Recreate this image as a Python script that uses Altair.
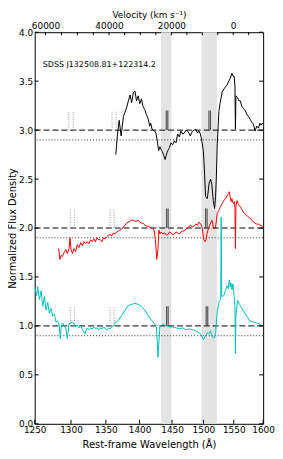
import math
import altair as alt
import pandas as pd

W, H = 231, 396

# ---------------- data (rest-frame wavelength in Angstrom, plotted flux incl. offsets) -------------
black_wl = [1364.5, 1367.0, 1369.5, 1372.4, 1375.8, 1380.6, 1383.2, 1385.7, 1388.0, 1390.5,
            1393.0, 1395.4, 1397.8, 1400.3, 1402.8, 1405.3, 1407.9, 1410.3, 1412.9, 1415.5,
            1417.0, 1419.0, 1423.1, 1425.0, 1427.0, 1429.2, 1431.1, 1433.1, 1434.9, 1436.7,
            1439.2, 1440.8, 1442.3, 1444.1, 1445.9, 1448.4, 1451.0, 1453.7, 1456.2, 1458.8,
            1461.5, 1464.0, 1466.7, 1469.4, 1471.9, 1474.5, 1476.6, 1478.8, 1480.8, 1482.5,
            1485.2, 1487.7, 1490.4, 1493.0, 1495.1, 1496.6, 1498.2, 1499.8, 1500.9, 1501.9,
            1503.5, 1506.3, 1507.9, 1509.1, 1511.7, 1513.6, 1516.1, 1518.2, 1519.8, 1521.3,
            1522.6, 1524.2, 1525.3, 1527.4, 1530.7, 1534.7, 1538.8, 1541.6, 1544.2, 1546.9,
            1548.9, 1550.7, 1552.0, 1552.8, 1553.6, 1556.5, 1558.6, 1560.8, 1563.7, 1566.5,
            1569.2, 1572.1, 1574.9, 1577.7, 1580.5, 1583.4, 1586.1, 1588.9, 1591.8, 1594.5,
            1596.5, 1598.5, 1600.0]
black_flux = [2.75, 2.96, 3.10, 2.94, 3.14, 3.23, 3.30, 3.36, 3.28, 3.38,
              3.40, 3.30, 3.35, 3.27, 3.32, 3.24, 3.21, 3.16, 3.12, 3.04,
              3.07, 3.01, 2.99, 2.97, 2.89, 2.79, 2.83, 2.80, 2.78, 2.75,
              2.70, 2.74, 2.77, 2.80, 2.82, 2.87, 2.85, 2.89, 2.87, 2.96,
              2.93, 2.99, 2.96, 2.97, 3.00, 2.99, 2.97, 2.94, 2.97, 2.99,
              3.00, 3.01, 2.97, 2.99, 2.96, 2.92, 2.86, 2.79, 2.68, 2.55,
              2.32, 2.30, 2.38, 2.45, 2.50, 2.45, 2.28, 2.20, 2.32, 2.55,
              2.86, 3.05, 3.19, 3.28, 3.39, 3.43, 3.46, 3.50, 3.53, 3.58,
              3.55, 3.55, 3.45, 3.01, 3.35, 3.33, 3.30, 3.30, 3.24, 3.22,
              3.20, 3.16, 3.14, 3.11, 3.08, 3.06, 2.99, 3.04, 3.02, 3.07,
              3.05, 3.07, 3.06]

red_wl = [1282.7, 1284.6, 1286.3, 1288.1, 1290.4, 1292.7, 1294.9, 1297.2, 1298.6, 1300.0,
          1302.1, 1304.2, 1306.6, 1308.8, 1311.2, 1313.6, 1315.9, 1318.3, 1320.7, 1323.0,
          1325.4, 1327.8, 1330.0, 1332.5, 1334.8, 1337.1, 1339.5, 1341.9, 1344.2, 1346.6,
          1349.0, 1351.3, 1353.8, 1356.3, 1358.6, 1361.1, 1363.6, 1365.9, 1368.5, 1371.0,
          1373.3, 1375.8, 1378.3, 1380.6, 1383.2, 1385.7, 1388.0, 1390.5, 1393.0, 1395.4,
          1397.8, 1400.3, 1402.8, 1405.3, 1407.9, 1410.3, 1412.9, 1415.5, 1419.0, 1422.1,
          1424.1, 1426.2, 1428.1, 1429.6, 1431.1, 1433.1, 1435.7, 1438.3, 1440.8, 1443.3,
          1445.9, 1448.4, 1451.0, 1453.7, 1456.2, 1458.8, 1461.5, 1464.0, 1466.7, 1469.4,
          1471.9, 1474.5, 1477.3, 1479.8, 1482.5, 1485.2, 1487.7, 1490.4, 1492.7, 1494.6,
          1496.6, 1498.2, 1499.8, 1500.9, 1502.6, 1504.2, 1505.8, 1507.4, 1509.6, 1511.7,
          1513.6, 1514.9, 1516.1, 1517.2, 1518.5, 1519.8, 1521.3, 1522.6, 1525.3, 1528.0,
          1530.7, 1533.5, 1536.1, 1538.8, 1540.8, 1542.6, 1544.2, 1545.7, 1546.9, 1548.6,
          1549.7, 1551.1, 1552.0, 1552.8, 1553.6, 1555.6, 1557.8, 1560.8, 1563.7, 1566.5,
          1569.2, 1572.1, 1574.9, 1577.7, 1580.5, 1583.4, 1586.1, 1588.9, 1591.8, 1594.5,
          1598.5, 1600.0]
red_flux = [1.79, 1.68, 1.72, 1.71, 1.75, 1.78, 1.74, 1.79, 1.90, 1.78,
            1.74, 1.79, 1.76, 1.83, 1.80, 1.85, 1.82, 1.86, 1.84, 1.86,
            1.84, 1.88, 1.86, 1.89, 1.86, 1.90, 1.88, 1.88, 1.86, 1.90,
            1.89, 1.91, 1.93, 1.93, 1.92, 1.95, 1.94, 1.96, 1.97, 1.98,
            1.99, 2.01, 2.03, 2.05, 2.06, 2.07, 2.08, 2.08, 2.07, 2.07,
            2.08, 2.06, 2.05, 2.05, 2.03, 2.02, 2.02, 2.01, 2.00, 1.98,
            1.88, 1.68, 1.78, 1.98, 1.94, 1.96, 1.94, 1.95, 1.93, 1.93,
            1.96, 1.95, 1.93, 1.94, 1.96, 1.95, 1.94, 1.96, 1.97, 1.97,
            1.99, 2.00, 2.02, 2.03, 2.01, 2.02, 2.04, 2.03, 2.06, 2.05,
            2.03, 2.00, 1.92, 1.88, 1.86, 1.88, 1.94, 1.98, 2.02, 2.05,
            2.08, 2.06, 2.00, 2.00, 1.99, 2.01, 2.08, 2.15, 2.18, 2.22,
            2.25, 2.28, 2.30, 2.33, 2.35, 2.37, 2.31, 2.27, 2.30, 2.26,
            2.25, 2.27, 2.20, 1.79, 2.22, 2.28, 2.24, 2.22, 2.19, 2.16,
            2.14, 2.13, 2.11, 2.10, 2.08, 2.06, 2.05, 2.04, 2.04, 2.03,
            2.02, 2.01]

cyan_wl = [1250.5, 1252.7, 1254.1, 1256.4, 1258.7, 1260.9, 1263.2, 1265.5, 1267.7, 1270.0,
           1272.3, 1274.5, 1276.8, 1279.0, 1281.3, 1283.6, 1285.0, 1286.4, 1288.1, 1290.4,
           1292.7, 1294.9, 1297.2, 1299.5, 1301.8, 1304.2, 1306.5, 1308.8, 1311.2, 1313.5,
           1315.9, 1319.7, 1323.0, 1325.4, 1327.8, 1330.2, 1332.5, 1334.8, 1337.1, 1339.5,
           1341.9, 1344.2, 1346.6, 1349.0, 1351.3, 1353.8, 1356.3, 1358.6, 1361.1, 1363.6,
           1368.5, 1373.3, 1378.3, 1383.2, 1388.0, 1393.0, 1397.8, 1402.8, 1407.9, 1412.9,
           1417.9, 1423.1, 1425.5, 1427.0, 1428.1, 1429.6, 1431.1, 1435.7, 1440.8, 1445.9,
           1451.0, 1456.2, 1461.5, 1466.7, 1471.9, 1477.3, 1482.5, 1487.7, 1493.0, 1496.6,
           1499.8, 1503.5, 1506.3, 1509.1, 1511.7, 1514.4, 1516.1, 1518.2, 1519.8, 1522.6,
           1525.8, 1528.3, 1529.1, 1529.9, 1533.5, 1536.0, 1538.8, 1540.8, 1542.6, 1544.0,
           1545.3, 1547.0, 1548.6, 1550.7, 1552.0, 1552.8, 1553.6, 1556.5, 1560.8, 1566.5,
           1572.1, 1577.7, 1583.4, 1588.9, 1594.5, 1598.5, 1600.0]
cyan_flux = [1.39, 1.31, 1.40, 1.27, 1.36, 1.20, 1.30, 1.16, 1.24, 1.13,
             1.18, 1.10, 1.12, 1.04, 1.05, 1.00, 0.87, 1.00, 1.03, 1.00,
             0.98, 0.87, 1.02, 1.03, 1.04, 1.02, 0.99, 1.01, 0.98, 1.00,
             0.97, 0.92, 0.98, 0.96, 0.98, 0.97, 0.99, 0.97, 0.98, 0.96,
             0.98, 0.97, 0.99, 0.97, 0.96, 0.98, 0.97, 0.99, 1.00, 1.03,
             1.06, 1.11, 1.16, 1.21, 1.22, 1.23, 1.22, 1.20, 1.16, 1.11,
             1.06, 1.02, 0.99, 0.85, 0.68, 0.84, 0.99, 1.02, 1.00, 0.99,
             0.99, 0.98, 0.97, 0.98, 0.96, 0.97, 0.96, 0.95, 0.93, 0.91,
             0.86, 0.90, 0.93, 0.92, 0.95, 0.89, 0.88, 0.88, 0.93, 1.15,
             1.25, 1.27, 2.11, 1.30, 1.31, 1.36, 1.41, 1.38, 1.47, 1.40,
             1.44, 1.37, 1.43, 1.30, 1.20, 0.72, 1.10, 1.26, 1.21, 1.15,
             1.10, 1.05, 1.04, 1.03, 1.02, 1.00, 1.00]

series_names = ["black", "red", "cyan"]
series_colors = ["#000000", "#ff0000", "#00bfbf"]
continuum_levels = [3.0, 2.0, 1.0]
lower_levels = [2.9, 1.9, 0.9]

band_start = [1433.0, 1497.0]
band_end = [1449.0, 1522.0]

solid_marker_wl = {"black": [1441.0, 1509.0], "red": [1441.5, 1503.5], "cyan": [1441.5, 1504.5]}
dotted_marker_wl = {"black": [1297.0, 1303.0, 1359.0, 1365.0],
                    "red": [1299.0, 1305.0, 1356.0, 1362.0],
                    "cyan": [1299.0, 1305.0, 1356.0, 1362.0]}
marker_low, marker_high = 1.0, 1.2
doublet_ratio = 1550.77 / 1548.20

wl_ticks = [1250, 1300, 1350, 1400, 1450, 1500, 1550, 1600]
flux_ticks = [0.0, 0.5, 1.0, 1.5, 2.0, 2.5, 3.0, 3.5, 4.0]
vel_ticks = list(range(60000, -5001, -5000))
vel_labels = [60000, 40000, 20000, 0]
C_KMS = 299792.458
CIV = 1549.06

label_text = "SDSS J132508.81+122314.2"
label_wl, label_y = 1261.0, 3.66

# ---------------- build tables -------------
def vel_to_wl(v):
    b = v / C_KMS
    return CIV * math.sqrt((1 - b) / (1 + b))

spec = pd.concat([
    pd.DataFrame({"wl": black_wl, "flux": black_flux, "series": "black"}),
    pd.DataFrame({"wl": red_wl, "flux": red_flux, "series": "red"}),
    pd.DataFrame({"wl": cyan_wl, "flux": cyan_flux, "series": "cyan"}),
], ignore_index=True)

solid_rows, dotted_rows = [], []
for name, lvl in zip(series_names, continuum_levels):
    base = lvl - 1.0
    for w in solid_marker_wl[name]:
        for ww in (w, w * doublet_ratio):
            solid_rows.append({"wl": ww, "y0": base + marker_low, "y1": base + marker_high})
    for w in dotted_marker_wl[name]:
        dotted_rows.append({"wl": w, "y0": base + marker_low, "y1": base + marker_high})
solid_df = pd.DataFrame(solid_rows)
dotted_df = pd.DataFrame(dotted_rows)

bands = pd.DataFrame({"start": band_start, "end": band_end})
xt = pd.DataFrame({"wl": wl_ticks})
yt = pd.DataFrame({"y": flux_ticks})
vt = pd.DataFrame({"wl": [vel_to_wl(v) for v in vel_ticks]})
txt = pd.DataFrame({"wl": [label_wl], "y": [label_y], "t": [label_text]})

FONT = "DejaVu Sans"
xscale = alt.Scale(type="log", domain=[1250, 1600], nice=False, zero=False)
yscale = alt.Scale(domain=[0, 4], nice=False, zero=False)

bottom_axis = alt.Axis(orient="bottom", values=wl_ticks, format="d", ticks=False, domain=False,
                       grid=False, labelFlush=False, labelOverlap=False, labelPadding=2,
                       labelFontSize=9, title="Rest-frame Wavelength (Å)", titleFontSize=10,
                       titleFontWeight="normal", titleY=21, titleBaseline="middle")
left_axis = alt.Axis(orient="left", values=flux_ticks, format=".1f", ticks=False, domain=False,
                     grid=False, labelFlush=False, labelOverlap=False, labelPadding=2,
                     labelFontSize=9, title="Normalized Flux Density", titleFontSize=10,
                     titleFontWeight="normal", titleX=-22.5, titleY=H / 2, titleAngle=270,
                     titleAlign="center", titleBaseline="middle")
lab_expr = ("format(round(%f*(%f*%f - datum.value*datum.value)/(%f*%f + datum.value*datum.value)/1000)*1000 + 0, 'd')"
            % (C_KMS, CIV, CIV, CIV, CIV))
top_axis = alt.Axis(orient="top", values=[vel_to_wl(v) for v in vel_labels], labelExpr=lab_expr,
                    ticks=False, domain=False, grid=False, labelFlush=False, labelOverlap=False,
                    labelPadding=2, labelFontSize=9, title="Velocity (km s⁻¹)", titleFontSize=9,
                    titleFontWeight="normal", titleY=-17.5, titleBaseline="middle")

band_layer = alt.Chart(bands).mark_rect(color="#e3e3e3").encode(
    x=alt.X("start:Q", scale=xscale, axis=None), x2="end:Q",
    y=alt.value(0), y2=alt.value(H))

dash_layer = alt.Chart(pd.DataFrame({"y": continuum_levels})).mark_rule(
    color="black", strokeWidth=1, strokeDash=[6, 3]).encode(
    y=alt.Y("y:Q", scale=yscale, axis=None))
dot_layer = alt.Chart(pd.DataFrame({"y": lower_levels})).mark_rule(
    color="#333333", strokeWidth=1, strokeDash=[1, 2]).encode(
    y=alt.Y("y:Q", scale=yscale, axis=None))

solid_layer = alt.Chart(solid_df).mark_rule(color="#555555", strokeWidth=1.2).encode(
    x=alt.X("wl:Q", scale=xscale, axis=None),
    y=alt.Y("y0:Q", scale=yscale, axis=None), y2="y1:Q")
dotted_layer = alt.Chart(dotted_df).mark_rule(color="#999999", strokeWidth=1, strokeDash=[1, 1.5]).encode(
    x=alt.X("wl:Q", scale=xscale, axis=None),
    y=alt.Y("y0:Q", scale=yscale, axis=None), y2="y1:Q")

spec_layer = alt.Chart(spec).mark_line(strokeWidth=1).encode(
    x=alt.X("wl:Q", scale=xscale, axis=bottom_axis),
    y=alt.Y("flux:Q", scale=yscale, axis=left_axis),
    color=alt.Color("series:N", scale=alt.Scale(domain=series_names, range=series_colors), legend=None),
    order="wl:Q")

xtick_layer = alt.Chart(xt).mark_rule(color="black").encode(
    x=alt.X("wl:Q", scale=xscale, axis=None), y=alt.value(H), y2=alt.value(H - 4))
vtick_layer = alt.Chart(vt).mark_rule(color="black").encode(
    x=alt.X("wl:Q", scale=xscale, axis=top_axis), y=alt.value(0), y2=alt.value(3))
ytick_l = alt.Chart(yt).mark_rule(color="black").encode(
    y=alt.Y("y:Q", scale=yscale, axis=None), x=alt.value(0), x2=alt.value(4))
ytick_r = alt.Chart(yt).mark_rule(color="black").encode(
    y=alt.Y("y:Q", scale=yscale, axis=None), x=alt.value(W), x2=alt.value(W - 4))

text_layer = alt.Chart(txt).mark_text(align="left", baseline="middle", fontSize=8, font=FONT,
                                      color="black").encode(
    x=alt.X("wl:Q", scale=xscale, axis=None), y=alt.Y("y:Q", scale=yscale, axis=None), text="t:N")

chart = alt.layer(band_layer, dash_layer, dot_layer, solid_layer, dotted_layer, spec_layer,
                  xtick_layer, vtick_layer, ytick_l, ytick_r, text_layer).resolve_axis(
    x="independent", y="independent").properties(
    width=W, height=H,
    autosize=alt.AutoSizeParams(type="none"),
    padding={"left": 27, "top": 22, "right": 12, "bottom": 25},
).configure_view(stroke="black", strokeWidth=1).configure_axis(
    labelFont=FONT, titleFont=FONT, labelColor="black", titleColor="black")

chart.save("out.html", embed_options={"renderer": "svg", "actions": False})
